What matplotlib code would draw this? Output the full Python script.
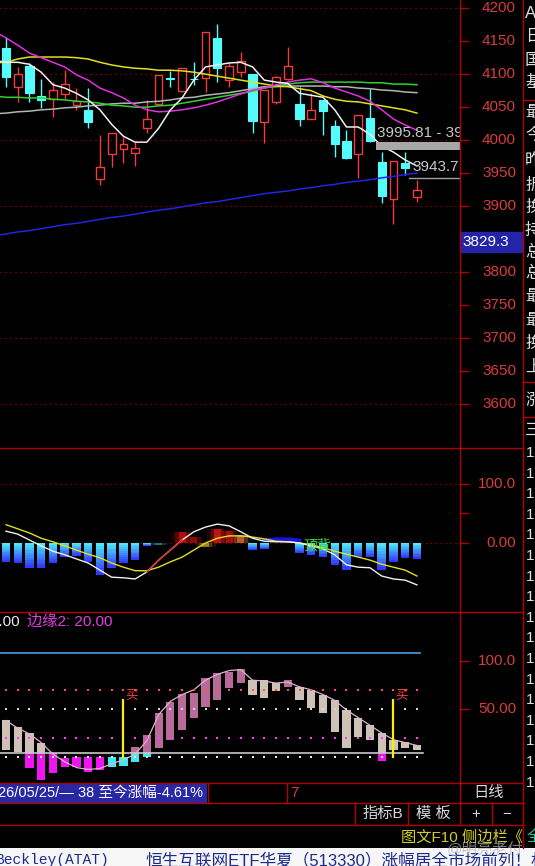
import numpy as np
import matplotlib.pyplot as plt
from matplotlib.lines import Line2D
from matplotlib.patches import Rectangle

plt.rcParams['font.family'] = ['Liberation Sans', 'Noto Sans CJK SC', 'DejaVu Sans']

# ---- daily candles ----
opens = [4139, 4080, 4111, 4066, 4061, 4069, 4052, 4045, 3940, 3978, 3986, 3980,
         4017, 4054, 4093, 4073, 4092, 4093, 4154, 4090, 4102, 4099, 4027, 4057,
         4092, 4054, 4031, 4060, 4020, 3998, 3978, 4033, 3966, 3910, 3964, 3913]
highs = [4155, 4110, 4116, 4092, 4087, 4105, 4078, 4078, 4007, 4010, 4004, 3996,
         4060, 4098, 4104, 4109, 4117, 4163, 4175, 4117, 4133, 4100, 4075, 4096,
         4140, 4080, 4070, 4060, 4030, 4014, 4037, 4077, 3981, 3967, 3981, 3939]
lows = [4080, 4057, 4057, 4048, 4034, 4061, 4045, 4017, 3931, 3958, 3964, 3960,
        4010, 4054, 4080, 4072, 4083, 4072, 4087, 4080, 4095, 4010, 3995, 4054,
        4090, 4020, 4031, 4007, 3974, 3970, 3942, 3997, 3904, 3872, 3946, 3905]
closes = [4095, 4099, 4070, 4060, 4075, 4084, 4058, 4027, 3958, 4010, 3993, 3987,
          4031, 4098, 4092, 4108, 4091, 4163, 4108, 4111, 4119, 4028, 4075, 4095,
          4111, 4031, 4045, 4043, 3993, 3972, 4037, 3998, 3914, 3967, 3957, 3924]

# moving averages, starting one day before the first visible candle
ma_white = [4120, 4117, 4117, 4114, 4102, 4083, 4078, 4070, 4060, 4045, 4023, 4005, 3996,
            3996, 4017, 4045, 4063, 4090, 4110, 4113, 4116, 4117, 4110, 4090, 4087, 4085,
            4070, 4067, 4064, 4045, 4019, 4019, 4008, 3990, 3981, 3969, 3960]
ma_magenta = [4164, 4154, 4143, 4131, 4124, 4117, 4110, 4098, 4090, 4078, 4071, 4063, 4052,
              4045, 4042, 4043, 4045, 4048, 4052, 4057, 4063, 4069, 4075, 4078, 4083, 4087,
              4090, 4092, 4086, 4078, 4072, 4066, 4058, 4045, 4031, 4022, 4014]
ma_yellow = [4116, 4117, 4122, 4125, 4125, 4125, 4125, 4124, 4122, 4117, 4113, 4110, 4108,
             4107, 4105, 4105, 4104, 4102, 4099, 4096, 4093, 4090, 4087, 4084, 4081, 4080,
             4077, 4074, 4066, 4061, 4058, 4057, 4054, 4051, 4048, 4045, 4040]
ma_green = [4066, 4064, 4064, 4063, 4063, 4061, 4060, 4058, 4057, 4055, 4052, 4051, 4049,
            4049, 4051, 4052, 4055, 4058, 4061, 4064, 4067, 4070, 4073, 4078, 4081, 4084,
            4086, 4087, 4087, 4087, 4087, 4087, 4086, 4086, 4084, 4084, 4083]
ma_gray = [4039, 4040, 4042, 4043, 4045, 4046, 4048, 4049, 4051, 4052, 4054, 4055, 4055,
           4057, 4058, 4060, 4063, 4064, 4067, 4069, 4071, 4074, 4077, 4080, 4080, 4081,
           4081, 4081, 4081, 4080, 4080, 4078, 4077, 4075, 4074, 4072, 4071]
ma_blue = [3854, 3857, 3860, 3862, 3865, 3868, 3871, 3873, 3876, 3879, 3882, 3884, 3887,
           3890, 3893, 3895, 3898, 3901, 3904, 3906, 3909, 3912, 3915, 3918, 3920, 3922,
           3925, 3927, 3930, 3932, 3935, 3937, 3939, 3942, 3944, 3947, 3949]

price_ticks = [4200, 4150, 4100, 4050, 4000, 3950, 3900, 3850, 3800, 3750, 3700, 3650, 3600]
level_hi = 3995.81
level_lo = 3943.7
cursor_price = 3829.3

# ---- oscillator panel ----
osc_bar = [-32, -34, -42, -42, -34, -24, -22, -32, -54, -42, -34, -29, -5,
           np.nan, np.nan, np.nan, np.nan, np.nan, np.nan, np.nan, np.nan,
           -12, -10, np.nan, np.nan, -17, -20, -24, -37, -46, -24, -24, -46, -32, -25, -27]
glow_idx = [13, 15, 16, 17, 18, 19, 20]
glow_val = [-4, 18, 10, -6, 24, 20, 14]
glow_col = ['#1e8c8c', '#d01010', '#a01010', '#b09a20', '#e01818', '#c01010', '#d07040']
blue_idx = [22, 23, 24, 25]
blue_val = [5, 6, 6, 4]
osc_white = [20, 15, 5, -5, -14, -20, -27, -34, -46, -58, -59, -61, -49, -29, -12, 5, 19, 27,
             32, 29, 19, 8, 3, 2, 2, 0, -5, -10, -20, -37, -41, -42, -56, -61, -63, -71]
osc_yellow = [31, 24, 17, 8, 2, -5, -12, -19, -25, -34, -41, -47, -47, -41, -32, -24, -12, 0,
              8, 12, 12, 10, 7, 3, 2, 0, -3, -8, -14, -19, -24, -29, -36, -41, -46, -56]

# ---- bottom indicator panel ----
ind_hi = [38.5, 31, 25, 14.6, 4.2, -1, 0, 0, 0, 0, 0, 10.4, 23, 46, 57, 65.6, 66.7, 82,
          87.5, 88.5, 91.7, 80, 80, 77, 80, 73, 70, 64.6, 59, 49, 40.6, 33, 25, 17.7, 15.6, 12.5]
ind_lo = [7.3, 5.2, -11.5, -24, -16.7, -10.4, -10.4, -15.6, -13.5, -10, -9, -5, 0, 9.4, 17.7,
          28, 40.6, 52, 59, 72, 77, 64.6, 61.5, 68.8, 73, 59, 51, 46, 26, 9.4, 20.8, 17.7, -4,
          7.3, 9.4, 7.3]
ind_up = [0, 0, 0, 0, 0, 0, 0, 0, 0, 1, 1, 1, 1, 1, 1, 1, 1, 1, 1, 1, 1, 0, 0, 0, 1, 0, 0, 0,
          0, 0, 0, 0, 0, 0, 0, 0]
ind_line = [38, 30, 24, 15, 3, -5, -11, -13, -12, -7, -3, 3, 17, 44, 58, 65, 70, 80, 86, 90,
            91, 80, 79, 77, 78, 73, 70, 65, 59, 49, 41, 33, 25, 18, 15, 12]
ind_base = 4
ind_top_line = 108
buy_idx = [10, 33]

W, H = 535, 866
RED = '#b00000'
TRED = '#d83c3c'
XL = (-0.51, 38.67)

fig = plt.figure(figsize=(W / 100, H / 100), dpi=100, facecolor='black')


def add_ax(x0, y0, x1, y1, ylim):
    ax = fig.add_axes([x0 / W, 1 - y1 / H, (x1 - x0) / W, (y1 - y0) / H])
    ax.set_facecolor('black')
    ax.set_xlim(*XL)
    ax.set_ylim(*ylim)
    ax.set_axis_off()
    return ax


def fline(xs, ys, color=RED, lw=1.0):
    fig.add_artist(Line2D([x / W for x in xs], [1 - y / H for y in ys],
                          transform=fig.transFigure, color=color, lw=lw))


def ftext(x, y, s, **kw):
    fig.text(x / W, 1 - y / H, s, **kw)


def right_labels(ax, vals, labels, fs=11, hidden=()):
    tr = ax.get_yaxis_transform()
    w = ax.get_position().width * W
    for v, lab in zip(vals, labels):
        ax.plot([1, 1 + 8 / w], [v, v], transform=tr, color=RED, lw=1, clip_on=False)
        if v in hidden:
            continue
        ax.text(516 / w, v, lab, transform=tr, ha='right', va='center', color=TRED,
                fontsize=fs, clip_on=False)


x = np.arange(len(opens))
ma_x = np.arange(-1, len(opens))

# ================= main price panel =================
ax = add_ax(0, 0, 460, 448, (3532.6, 4211.4))
for g in [4200, 4100, 4000, 3900, 3800, 3700, 3600]:
    ax.axhline(g, color='#a00000', lw=0.9, ls=(0, (1, 3)))

for i in range(len(opens)):
    o, h, l, c = opens[i], highs[i], lows[i], closes[i]
    top, bot = max(o, c), min(o, c)
    if c > o:
        ax.vlines(i, top, h, color='#f03c3c', lw=1, zorder=3)
        ax.vlines(i, l, bot, color='#f03c3c', lw=1, zorder=3)
        ax.bar(i, top - bot, bottom=bot, width=0.66, facecolor='none',
               edgecolor='#f03c3c', lw=1, zorder=3)
    else:
        ax.vlines(i, l, h, color='#54fcfc', lw=1, zorder=3)
        ax.bar(i, max(top - bot, 1.2), bottom=bot, width=0.7, color='#54fcfc',
               edgecolor='#54fcfc', lw=0.8, zorder=3)

ax.plot(ma_x, ma_blue, color='#2424e0', lw=1.1, zorder=4)
ax.plot(ma_x, ma_gray, color='#b4b4b4', lw=1.1, zorder=4)
ax.plot(ma_x, ma_green, color='#30d030', lw=1.1, zorder=4)
ax.plot(ma_x, ma_yellow, color='#e0e020', lw=1.1, zorder=4)
ax.plot(ma_x, ma_magenta, color='#e030e0', lw=1.1, zorder=4)
ax.plot(ma_x, ma_white, color='#f0f0f0', lw=1.1, zorder=4)

ax.fill_between([31.5, XL[1]], level_hi - 11, level_hi, color='#a8a8a8', lw=0, zorder=5)
ax.text(31.6, level_hi + 4, f'{level_hi:.2f} - 39', color='#c8c8c8', fontsize=11,
        va='bottom', ha='left', clip_on=True, zorder=6)
ax.plot([34.3, XL[1]], [level_lo - 2, level_lo - 2], color='#a0a0a0', lw=1, zorder=5)
ax.text(34.6, level_lo + 4, f'{level_lo:.1f}', color='#c8c8c8', fontsize=11,
        va='bottom', ha='left', clip_on=True, zorder=6)

# the 3850 label sits under the cursor price box
right_labels(ax, price_ticks, [str(t) for t in price_ticks], hidden=(3850,))
tr = ax.get_yaxis_transform()
ax.add_patch(Rectangle((1.0, cursor_price), 63 / 460, 30, transform=tr,
                       facecolor='#2424a8', edgecolor='#2424a8', clip_on=False, zorder=8))
ax.text(1 + 2 / 460, cursor_price + 15, f'{cursor_price:.1f}', transform=tr, color='white',
        fontsize=11, ha='left', va='center', clip_on=False, zorder=9)

# ================= oscillator panel =================
ax2 = add_ax(0, 448, 460, 612, (-117, 161))
for g in [100, 0]:
    ax2.axhline(g, color='#a00000', lw=0.9, ls=(0, (1, 3)))
vals = np.array(osc_bar, dtype=float)
top_c = np.array([0.31, 0.94, 0.97])
bot_c = np.array([0.19, 0.19, 1.0])
n = 10
for k in range(n):
    col = top_c + (bot_c - top_c) * (k + 0.5) / n
    ax2.bar(x, vals / n, bottom=vals * k / n, width=0.72, color=col, lw=0, zorder=2)
for w, a in [(1.7, 0.15), (1.15, 0.3), (0.6, 0.75)]:
    ax2.bar(glow_idx, glow_val, width=w, color=glow_col, alpha=a, lw=0, zorder=2)
ax2.plot(blue_idx, blue_val, color='#1414e6', lw=3, zorder=3)
ax2.plot(x, osc_yellow, color='#e0e020', lw=1, zorder=4)
ax2.plot(x, osc_white, color='#f0f0f0', lw=1, zorder=4)
ax2.plot(x[12:16], osc_white[12:16], color='#e02020', lw=1, zorder=5)
ax2.text(25.3, -5, '顶背', color='#30e030', fontsize=10, va='center', ha='left', zorder=6)
right_labels(ax2, [100, 0], ['100.0', '0.00'])
ax2.plot([1, 1 + 8 / 460], [50, 50], transform=ax2.get_yaxis_transform(), color=RED,
         lw=1, clip_on=False)

# ================= bottom indicator panel =================
ax3 = add_ax(0, 612, 460, 783, (-27.1, 151))
ax3.plot([-0.51, 35.3], [ind_top_line, ind_top_line], color='#4a90d0', lw=1.3)
hi = np.array(ind_hi)
lo = np.array(ind_lo)
up = np.array(ind_up) == 1
a_top = np.maximum(hi, ind_base)
a_bot = np.maximum(lo, ind_base)
b_top = np.minimum(hi, ind_base)
b_bot = np.minimum(lo, ind_base)
above_col = np.where(up, '#b86a98', '#cec2b6')
below_col = np.where(up, '#40e8f0', '#f014f0')
m = a_top > a_bot
ax3.bar(x[m], (a_top - a_bot)[m], bottom=a_bot[m], width=0.7, color=above_col[m], lw=0, zorder=2)
m = b_top > b_bot
ax3.bar(x[m], (b_top - b_bot)[m], bottom=b_bot[m], width=0.7, color=below_col[m], lw=0, zorder=2)
ax3.plot(x, ind_line, color='#dcb4d0', lw=0.9, zorder=3)
ax3.plot([-0.51, 35.5], [ind_base, ind_base], color='#c8c8c8', lw=1.2, zorder=3)
for lvl, col in [(70, '#ff5050'), (50, '#d8d8d8'), (20, '#ff40ff'), (0, '#e8e8e8')]:
    ax3.scatter(x, [lvl] * len(x), s=2.5, marker='s', color=col, lw=0, zorder=4)
for b in buy_idx:
    ax3.vlines(b, -1, 60, color='#f8f000', lw=1.6, zorder=5)
    ax3.text(b + 0.15, 58, '买', color='#ff4040', fontsize=9, ha='left', va='bottom', zorder=6)
right_labels(ax3, [100, 50], ['100.0', '50.00'])
ftext(-9, 622, '1.00', color='#e8e8e8', fontsize=11, va='center', ha='left')
ftext(27, 622, '边缘2: 20.00', color='#e040e0', fontsize=11, va='center', ha='left')

# ================= frame lines =================
for yy in [448, 612, 783, 803, 825]:
    fline([0, 523], [yy, yy])
fline([460, 460], [0, 825])
fline([523, 523], [0, 848])
fline([208, 208], [783, 803])
fline([287, 287], [783, 803])
fline([355, 355], [803, 825])
fline([408, 408], [803, 825])
fline([492, 492], [803, 825])
for yy in [100, 382, 417]:
    fline([523, 535], [yy, yy])

# ================= status rows =================
fig.add_artist(Rectangle((0, 1 - 803 / H), 207 / W, 20 / H, transform=fig.transFigure,
                         facecolor='#2828a4', edgecolor='none'))
ftext(-2, 793, '26/05/25/— 38 至今涨幅-4.61%', color='white', fontsize=10.5, va='center')
ftext(290, 793, '7', color=TRED, fontsize=11, va='center')
ftext(489, 793, '日线', color='#d8d8d8', fontsize=11, va='center', ha='center')
ftext(383, 814, '指标B', color='#d8d8d8', fontsize=11, va='center', ha='center')
ftext(433, 814, '模 板', color='#d8d8d8', fontsize=11, va='center', ha='center')
ftext(476, 814, '+', color='#d8d8d8', fontsize=11, va='center', ha='center')
ftext(507, 814, '−', color='#d8d8d8', fontsize=11, va='center', ha='center')
ftext(401, 837, '图文F10 侧边栏《', color='#d4d020', fontsize=11, va='center')
ftext(527, 837, '全', color='#20c8a0', fontsize=11, va='center')

# sidebar, cut at the right edge
side_chars = ['A', '日', '国', '基', '最', '今', '昨', '振', '换', '持', '总', '总', '最', '最',
              '换', '上', '涨', '三']
side_y = [13, 37, 60, 82, 113, 135, 160, 185, 207, 230, 252, 273, 297, 320, 343, 367, 400, 430]
for ch, yy in zip(side_chars, side_y):
    ftext(525, yy, ch, color='#e0e0e0', fontsize=12, va='center')
for yy in np.arange(453, 790, 20.6):
    ftext(526, yy, '1', color='#e0e0e0', fontsize=11, va='center')

# white news strip
fig.add_artist(Rectangle((0, 0), 1, 18 / H, transform=fig.transFigure,
                         facecolor='#f6f6f6', edgecolor='none'))
ftext(-4, 853, 'Beckley(ATAT)', color='#1c2a8c', fontsize=10.5, va='top',
      family=['Liberation Mono', 'DejaVu Sans Mono'])
ftext(145, 852, '恒生互联网ETF华夏（513330）涨幅居全市场前列！权重股', color='#1c2a8c',
      fontsize=12, va='top')
ftext(447, 849, '@明亮老付', color='#b0b0b0', alpha=0.7, fontsize=11, va='center')

fig.savefig('out.png', dpi=100, facecolor='black')
